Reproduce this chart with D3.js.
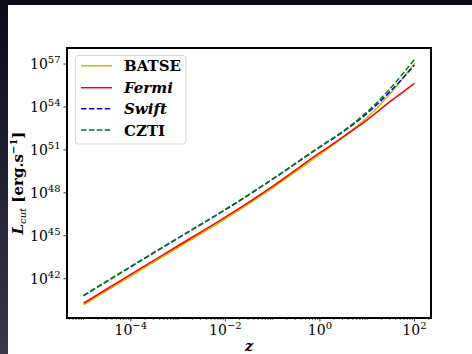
<!DOCTYPE html>
<html>
<head>
<meta charset="utf-8">
<script src="https://cdn.jsdelivr.net/npm/d3@7"></script>
<style>
html,body{margin:0;padding:0;background:#0b0b1a;}
svg{display:block;}
</style>
</head>
<body>
<svg id="chart" width="472" height="354"></svg>
<script>
// ---- data (log10 of L_cut) ----
const zValues = [1e-5, 1e-4, 1e-3, 1e-2, 1e-1, 1, 3, 10, 30, 100];
const batseLogL = [40.16, 42.18, 44.18, 46.18, 48.35, 50.68, 51.86, 53.26, 54.89, 57.05];
const fermiLogL = [40.28, 42.30, 44.30, 46.30, 48.45, 50.80, 51.87, 53.10, 54.35, 55.65];
const swiftLogL = [40.81, 42.83, 44.83, 46.82, 48.95, 51.20, 52.23, 53.56, 55.04, 56.93];
const cztiLogL  = [40.83, 42.85, 44.85, 46.84, 48.97, 51.23, 52.28, 53.66, 55.25, 57.33];
const seriesNames = ["BATSE", "Fermi", "Swift", "CZTI"];
const xTickExps = [-4, -2, 0, 2];
const yTickExps = [42, 45, 48, 51, 54, 57];

const svg = d3.select("#chart");
const W = 472, H = 354;

// background
const defs = svg.append("defs");
const grad = defs.append("linearGradient").attr("id","lg").attr("x1",0).attr("y1",0).attr("x2",0).attr("y2",1);
grad.append("stop").attr("offset","0%").attr("stop-color","#0b0b1a");
grad.append("stop").attr("offset","100%").attr("stop-color","#38354c");
svg.append("rect").attr("width",W).attr("height",H).attr("fill","#0b0b1a");
svg.append("rect").attr("x",0).attr("y",0).attr("width",8).attr("height",H).attr("fill","url(#lg)");
svg.append("rect").attr("x",8).attr("y",5).attr("width",W-8).attr("height",H-5).attr("fill","#ffffff");

const L = 67, R = 431, T = 48, B = 318;
const x = d3.scaleLog().domain([Math.pow(10,-5.35), Math.pow(10,2.35)]).range([L, R]);
const y = d3.scaleLog().domain([Math.pow(10,39.25), Math.pow(10,58.12)]).range([B, T]);

const styles = {
  BATSE: {color:"#bfbf00", dash:null, data:batseLogL},
  Fermi: {color:"#ff0000", dash:null, data:fermiLogL},
  Swift: {color:"#0000ff", dash:"5.5,2.4", data:swiftLogL},
  CZTI:  {color:"#008000", dash:"5.5,2.4", data:cztiLogL}
};

const line = d3.line()
  .x(d => x(d[0]))
  .y(d => y(d[1]))
  .curve(d3.curveMonotoneX);

const plot = svg.append("g");
plot.append("clipPath").attr("id","clip").append("rect").attr("x",L).attr("y",T).attr("width",R-L).attr("height",B-T);
const gLines = plot.append("g").attr("clip-path","url(#clip)");
seriesNames.forEach(name => {
  const s = styles[name];
  const pts = zValues.map((z,i) => [z, Math.pow(10, s.data[i])]);
  gLines.append("path").datum(pts)
    .attr("d", line)
    .attr("fill","none")
    .attr("stroke", s.color)
    .attr("stroke-width", 1.5)
    .attr("stroke-dasharray", s.dash);
});

// ticks
const gAx = svg.append("g");
// x major
xTickExps.forEach(e => {
  const px = x(Math.pow(10,e));
  gAx.append("line").attr("x1",px).attr("x2",px).attr("y1",B).attr("y2",B+3.5).attr("stroke","#000").attr("stroke-width",0.8);
  const t = gAx.append("text").attr("x",px).attr("y",335).attr("text-anchor","middle")
    .attr("font-family","DejaVu Serif").attr("font-size",14).attr("fill","#000");
  t.append("tspan").text("10");
  t.append("tspan").attr("dy",-6).attr("font-size",10).text(e < 0 ? "\u2212" + (-e) : String(e));
});
// x minor
for (let e = -6; e <= 2; e++) {
  for (let k = 1; k <= 9; k++) {
    if (k === 1 && xTickExps.includes(e)) continue;
    const v = k * Math.pow(10, e);
    if (v < x.domain()[0] || v > x.domain()[1]) continue;
    const px = x(v);
    gAx.append("line").attr("x1",px).attr("x2",px).attr("y1",B).attr("y2",B+2).attr("stroke","#000").attr("stroke-width",0.6);
  }
}
// y major
yTickExps.forEach(e => {
  const py = y(Math.pow(10,e));
  gAx.append("line").attr("x1",L-3.5).attr("x2",L).attr("y1",py).attr("y2",py).attr("stroke","#000").attr("stroke-width",0.8);
  const t = gAx.append("text").attr("x",30).attr("y",py+5).attr("text-anchor","start")
    .attr("font-family","DejaVu Serif").attr("font-size",14).attr("fill","#000");
  t.append("tspan").text("10");
  t.append("tspan").attr("dy",-6).attr("font-size",10).text(String(e));
});

// frame
svg.append("rect").attr("x",L).attr("y",T).attr("width",R-L).attr("height",B-T)
  .attr("fill","none").attr("stroke","#000").attr("stroke-width",2);

// legend
const lg = svg.append("g");
lg.append("rect").attr("x",75.5).attr("y",55.5).attr("width",110.5).attr("height",88.5).attr("rx",3)
  .attr("fill","#fff").attr("fill-opacity",0.8).attr("stroke","#d5d5d5").attr("stroke-width",1);
const legY = [65.7, 87.7, 108.7, 130];
const italic = {BATSE:false, Fermi:true, Swift:true, CZTI:false};
seriesNames.forEach((name,i) => {
  const s = styles[name];
  lg.append("line").attr("x1",81).attr("x2",112).attr("y1",legY[i]).attr("y2",legY[i])
    .attr("stroke",s.color).attr("stroke-width",1.5).attr("stroke-dasharray",s.dash);
  lg.append("text").attr("x",124).attr("y",legY[i]+5.5)
    .attr("font-family","DejaVu Serif").attr("font-weight","bold")
    .attr("font-style", italic[name] ? "italic" : "normal")
    .attr("font-size",15).attr("fill","#000").text(name);
});

// y label
const yl = svg.append("text").attr("transform","translate(23,183) rotate(-90)")
  .attr("text-anchor","middle").attr("font-family","DejaVu Serif").attr("font-size",15).attr("fill","#000");
yl.append("tspan").attr("font-weight","bold").attr("font-style","italic").text("L");
yl.append("tspan").attr("font-style","italic").attr("font-size",10).attr("dy",3).text("cut");
yl.append("tspan").attr("dy",-3).attr("font-weight","bold").text(" [erg.s");
yl.append("tspan").attr("dy",-6).attr("font-size",10).attr("font-weight","bold").text("\u22121");
yl.append("tspan").attr("dy",6).attr("font-weight","bold").text("]");

// x label
svg.append("text").attr("x",249).attr("y",351).attr("text-anchor","middle")
  .attr("font-family","DejaVu Serif").attr("font-style","italic").attr("font-weight","bold")
  .attr("font-size",15).attr("fill","#000").text("z");
</script>
</body>
</html>
